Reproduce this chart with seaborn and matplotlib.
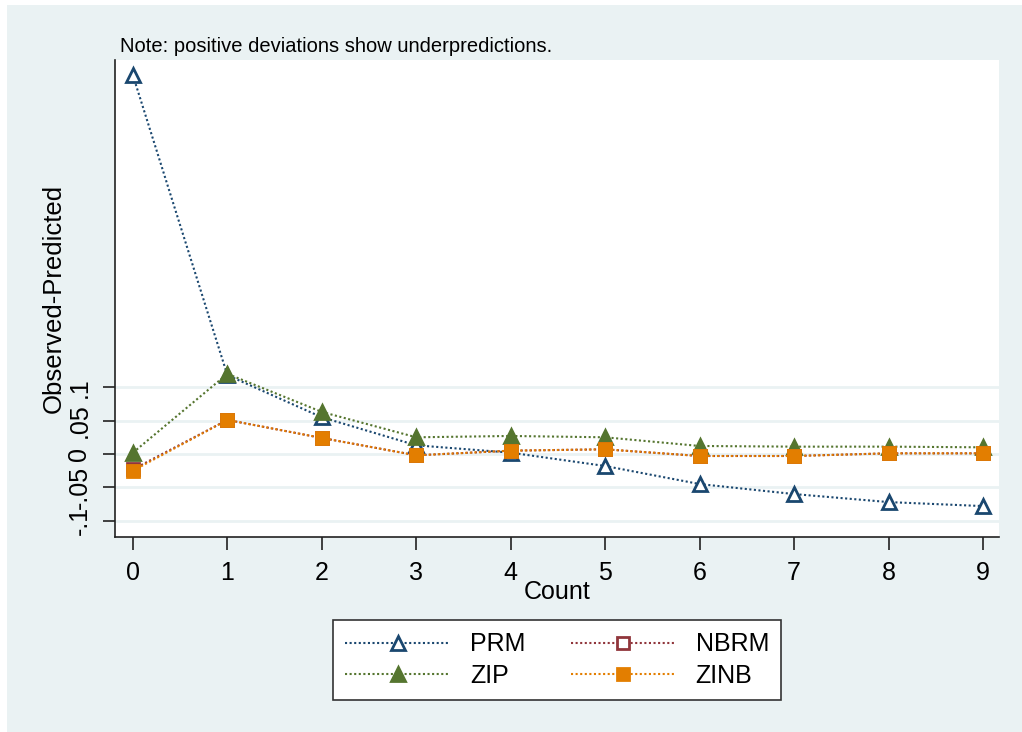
import pandas as pd
import numpy as np
import matplotlib
matplotlib.use("Agg")
import matplotlib.pyplot as plt
import seaborn as sns
from matplotlib.patches import Rectangle

# observed - predicted probabilities by count
counts = [0, 1, 2, 3, 4, 5, 6, 7, 8, 9]
prm = [0.567, 0.118, 0.055, 0.013, 0.002, -0.018, -0.045, -0.060, -0.072, -0.078]
nbrm = [-0.023, 0.051, 0.024, -0.002, 0.005, 0.007, -0.003, -0.003, 0.001, 0.001]
zip_ = [0.002, 0.120, 0.063, 0.025, 0.027, 0.025, 0.012, 0.011, 0.011, 0.010]
zinb = [-0.025, 0.051, 0.024, -0.002, 0.005, 0.007, -0.003, -0.003, 0.001, 0.001]

ytick_vals = [-0.1, -0.05, 0, 0.05, 0.1]
ytick_labels = ['-.1', '-.05', '0', '.05', '.1']

bg = '#EAF2F3'
sns.set_style('white')
plt.rcParams['font.family'] = ['Liberation Sans', 'DejaVu Sans']
plt.rcParams['text.color'] = 'black'
plt.rcParams['axes.labelcolor'] = 'black'
plt.rcParams['xtick.color'] = 'black'
plt.rcParams['ytick.color'] = 'black'

fig = plt.figure(figsize=(10.22, 7.32), dpi=100, facecolor='white')
fig.patches.append(Rectangle((7 / 1022, 0), 1 - 7 / 1022, 1 - 5 / 732,
                             transform=fig.transFigure, facecolor=bg,
                             edgecolor='none', zorder=-10))
ax = fig.add_axes([115 / 1022, 195 / 732, 884 / 1022, 477 / 732])
ax.set_facecolor('white')

series = [
    ('PRM', prm, '#1a476f', '^', 'white'),
    ('ZIP', zip_, '#55752f', '^', '#55752f'),
    ('NBRM', nbrm, '#90353b', 's', 'white'),
    ('ZINB', zinb, '#e37e00', 's', '#e37e00'),
]
for name, vals, col, mk, fc in series:
    df = pd.DataFrame({'Count': counts, 'val': vals})
    sns.lineplot(data=df, x='Count', y='val', ax=ax, color=col, label=name,
                 linestyle=(0, (1, 1.2)), linewidth=1.5, marker=mk,
                 markersize=10 if mk == '^' else 9,
                 markerfacecolor=fc, markeredgecolor=col, markeredgewidth=2,
                 legend=False, zorder=3)

ax.set_xlim(-0.19, 9.17)
ax.set_ylim(-0.1243, 0.590)
ax.set_xticks(counts)
ax.set_yticks(ytick_vals)
ax.set_yticklabels(ytick_labels, rotation=90, va='center')
ax.yaxis.grid(True, color=bg, linewidth=2)
ax.xaxis.grid(False)
for s in ['top', 'right']:
    ax.spines[s].set_visible(False)
for s in ['left', 'bottom']:
    ax.spines[s].set_color('#222222')
    ax.spines[s].set_linewidth(1.2)
ax.tick_params(axis='both', direction='out', length=9, width=1.2,
               color='#222222', labelsize=18, pad=8, left=True, bottom=True)
ax.set_xlabel('Count', fontsize=18, labelpad=-3)
ax.set_ylabel('Observed-Predicted', fontsize=18.5)
ax.yaxis.set_label_coords(-0.056, 0.5)

fig.text(120 / 1022, 1 - 52 / 732, 'Note: positive deviations show underpredictions.',
         fontsize=14.5, va='baseline', ha='left')

handles, labels = ax.get_legend_handles_labels()
leg = fig.legend(handles, labels, ncol=2, loc='center',
                 bbox_to_anchor=(557 / 1022, 1 - 660 / 732), fontsize=18,
                 frameon=True, fancybox=False, edgecolor='#333333',
                 facecolor='white', framealpha=1,
                 handlelength=4.2, handletextpad=0.8, columnspacing=1.8,
                 labelspacing=0.3, borderpad=0.5)
leg.get_frame().set_linewidth(1.2)

fig.savefig('out.png', dpi=100, facecolor='white')
